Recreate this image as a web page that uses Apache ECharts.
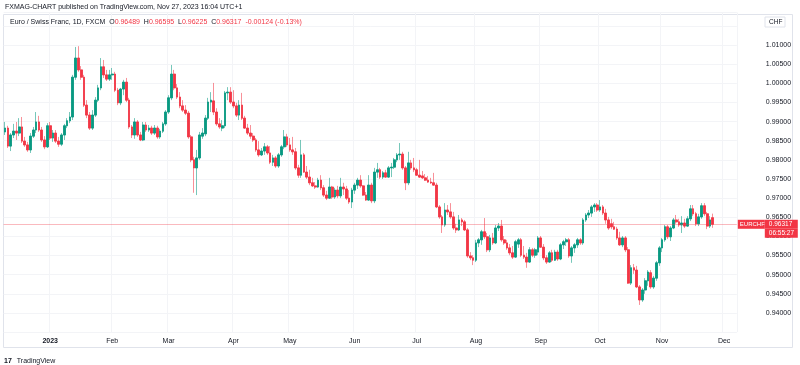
<!DOCTYPE html>
<html><head><meta charset="utf-8">
<script src="https://cdn.jsdelivr.net/npm/echarts@6/dist/echarts.min.js"></script>
<style>html,body{margin:0;padding:0;background:#fff}#c{width:800px;height:365px}</style>
</head><body><div id="c"></div>
<script>
const opens = [
0.9873,0.9883,0.9836,0.9865,0.9875,0.9870,0.9886,0.9849,0.9839,0.9826,
0.9862,0.9878,0.9899,0.9878,0.9852,0.9834,0.9889,0.9857,0.9870,0.9849,
0.9841,0.9865,0.9889,0.9902,0.9912,1.0016,1.0066,1.0035,1.0016,0.9943,
0.9917,0.9883,0.9917,0.9956,0.9988,1.0043,1.0022,1.0011,1.0022,1.0024,
0.9982,0.9949,0.9985,1.0003,0.9956,0.9886,0.9865,0.9899,0.9865,0.9852,
0.9891,0.9878,0.9883,0.9870,0.9883,0.9860,0.9875,0.9894,0.9925,0.9962,
1.0024,0.9988,0.9964,0.9941,0.9930,0.9922,0.9860,0.9800,0.9779,0.9805,
0.9862,0.9868,0.9909,0.9951,0.9954,0.9925,0.9894,0.9883,0.9889,0.9975,
0.9977,0.9951,0.9941,0.9917,0.9943,0.9909,0.9883,0.9870,0.9862,0.9852,
0.9826,0.9813,0.9823,0.9834,0.9818,0.9794,0.9805,0.9784,0.9813,0.9834,
0.9860,0.9839,0.9826,0.9821,0.9779,0.9760,0.9813,0.9768,0.9755,0.9740,
0.9732,0.9729,0.9747,0.9727,0.9708,0.9700,0.9729,0.9703,0.9721,0.9706,
0.9729,0.9724,0.9700,0.9690,0.9721,0.9734,0.9747,0.9732,0.9708,0.9695,
0.9734,0.9693,0.9768,0.9774,0.9755,0.9766,0.9755,0.9779,0.9781,0.9800,
0.9813,0.9815,0.9779,0.9740,0.9792,0.9779,0.9774,0.9760,0.9758,0.9753,
0.9747,0.9742,0.9740,0.9734,0.9677,0.9651,0.9630,0.9669,0.9664,0.9651,
0.9622,0.9617,0.9643,0.9638,0.9617,0.9549,0.9544,0.9538,0.9583,0.9591,
0.9612,0.9599,0.9565,0.9596,0.9583,0.9622,0.9627,0.9591,0.9583,0.9570,
0.9557,0.9546,0.9580,0.9591,0.9551,0.9546,0.9533,0.9565,0.9551,0.9559,
0.9596,0.9572,0.9544,0.9533,0.9557,0.9538,0.9559,0.9541,0.9578,0.9586,
0.9591,0.9549,0.9570,0.9578,0.9591,0.9583,0.9643,0.9656,0.9661,0.9677,
0.9682,0.9669,0.9677,0.9661,0.9643,0.9633,0.9625,0.9619,0.9596,0.9578,
0.9596,0.9565,0.9478,0.9518,0.9512,0.9468,0.9434,0.9460,0.9484,0.9505,
0.9468,0.9491,0.9531,0.9570,0.9591,0.9625,0.9599,0.9622,0.9643,0.9638,
0.9630,0.9635,0.9627,0.9646,0.9672,0.9659,0.9633,0.9651,0.9680,0.9659,
0.9627,0.96489];
const highs = [
0.9899,0.9889,0.9870,0.9894,0.9899,0.9909,0.9912,0.9860,0.9847,0.9870,
0.9886,0.9925,0.9915,0.9886,0.9862,0.9896,0.9899,0.9878,0.9878,0.9860,
0.9870,0.9894,0.9909,0.9925,1.0022,1.0095,1.0097,1.0045,1.0022,0.9956,
0.9925,0.9930,0.9964,0.9996,1.0066,1.0061,1.0035,1.0035,1.0040,1.0030,
0.9988,0.9988,1.0009,1.0014,0.9962,0.9891,0.9909,0.9904,0.9873,0.9899,
0.9899,0.9891,0.9889,0.9891,0.9889,0.9881,0.9899,0.9930,0.9969,1.0048,
1.0035,0.9998,0.9977,0.9956,0.9943,0.9928,0.9865,0.9808,0.9826,0.9873,
0.9883,0.9917,0.9962,0.9977,1.0001,0.9935,0.9909,0.9904,0.9980,0.9990,
0.9990,0.9982,0.9949,0.9956,0.9975,0.9915,0.9894,0.9891,0.9870,0.9857,
0.9849,0.9831,0.9844,0.9839,0.9836,0.9813,0.9810,0.9818,0.9839,0.9878,
0.9868,0.9857,0.9860,0.9831,0.9787,0.9852,0.9818,0.9784,0.9774,0.9753,
0.9742,0.9753,0.9760,0.9734,0.9719,0.9753,0.9732,0.9727,0.9732,0.9753,
0.9740,0.9732,0.9721,0.9727,0.9740,0.9753,0.9760,0.9734,0.9716,0.9760,
0.9740,0.9779,0.9792,0.9779,0.9771,0.9774,0.9784,0.9792,0.9805,0.9818,
0.9844,0.9821,0.9784,0.9821,0.9800,0.9805,0.9779,0.9800,0.9771,0.9763,
0.9758,0.9753,0.9766,0.9740,0.9682,0.9656,0.9687,0.9682,0.9687,0.9664,
0.9633,0.9656,0.9648,0.9643,0.9622,0.9559,0.9551,0.9591,0.9596,0.9617,
0.9648,0.9609,0.9604,0.9609,0.9630,0.9635,0.9643,0.9601,0.9591,0.9580,
0.9575,0.9591,0.9596,0.9596,0.9575,0.9557,0.9572,0.9570,0.9570,0.9601,
0.9601,0.9580,0.9551,0.9562,0.9565,0.9565,0.9565,0.9583,0.9591,0.9596,
0.9596,0.9575,0.9583,0.9596,0.9596,0.9648,0.9661,0.9669,0.9682,0.9687,
0.9687,0.9695,0.9682,0.9672,0.9651,0.9646,0.9638,0.9625,0.9612,0.9601,
0.9601,0.9572,0.9525,0.9528,0.9523,0.9473,0.9465,0.9491,0.9512,0.9512,
0.9497,0.9536,0.9575,0.9596,0.9630,0.9630,0.9627,0.9648,0.9656,0.9646,
0.9653,0.9646,0.9653,0.9682,0.9682,0.9664,0.9659,0.9687,0.9687,0.9664,
0.9653,0.96595];
const lows = [
0.9865,0.9831,0.9823,0.9857,0.9852,0.9862,0.9844,0.9834,0.9821,0.9818,
0.9857,0.9870,0.9873,0.9847,0.9828,0.9831,0.9852,0.9847,0.9844,0.9834,
0.9836,0.9852,0.9883,0.9896,0.9904,1.0009,1.0030,1.0009,0.9938,0.9909,
0.9878,0.9878,0.9912,0.9951,0.9982,1.0014,1.0006,1.0006,1.0009,0.9977,
0.9943,0.9943,0.9969,0.9951,0.9881,0.9857,0.9855,0.9860,0.9849,0.9849,
0.9873,0.9873,0.9865,0.9865,0.9855,0.9855,0.9870,0.9889,0.9920,0.9956,
0.9982,0.9959,0.9935,0.9925,0.9917,0.9855,0.9794,0.9714,0.9708,0.9800,
0.9855,0.9862,0.9904,0.9925,0.9917,0.9889,0.9881,0.9875,0.9883,0.9956,
0.9946,0.9935,0.9912,0.9904,0.9904,0.9881,0.9865,0.9855,0.9847,0.9821,
0.9808,0.9810,0.9813,0.9813,0.9789,0.9784,0.9779,0.9779,0.9808,0.9828,
0.9834,0.9821,0.9813,0.9774,0.9753,0.9753,0.9766,0.9750,0.9734,0.9729,
0.9724,0.9727,0.9721,0.9703,0.9695,0.9698,0.9698,0.9698,0.9700,0.9700,
0.9708,0.9695,0.9685,0.9674,0.9711,0.9724,0.9727,0.9706,0.9693,0.9693,
0.9687,0.9687,0.9753,0.9750,0.9750,0.9753,0.9753,0.9755,0.9776,0.9794,
0.9800,0.9774,0.9721,0.9734,0.9774,0.9768,0.9758,0.9753,0.9750,0.9745,
0.9740,0.9737,0.9732,0.9674,0.9646,0.9609,0.9625,0.9656,0.9646,0.9617,
0.9609,0.9614,0.9627,0.9614,0.9544,0.9538,0.9525,0.9533,0.9572,0.9578,
0.9593,0.9559,0.9559,0.9578,0.9580,0.9614,0.9586,0.9578,0.9565,0.9551,
0.9541,0.9544,0.9570,0.9546,0.9541,0.9518,0.9531,0.9546,0.9544,0.9551,
0.9570,0.9538,0.9528,0.9531,0.9533,0.9536,0.9536,0.9538,0.9567,0.9575,
0.9544,0.9531,0.9557,0.9570,0.9578,0.9578,0.9638,0.9648,0.9651,0.9664,
0.9664,0.9664,0.9656,0.9633,0.9617,0.9619,0.9617,0.9591,0.9575,0.9572,
0.9559,0.9476,0.9473,0.9502,0.9465,0.9421,0.9429,0.9450,0.9471,0.9463,
0.9463,0.9484,0.9523,0.9559,0.9586,0.9593,0.9588,0.9619,0.9633,0.9625,
0.9609,0.9622,0.9625,0.9640,0.9653,0.9627,0.9627,0.9646,0.9653,0.9619,
0.9622,0.96225];
const closes = [
0.9883,0.9836,0.9865,0.9875,0.9870,0.9886,0.9849,0.9839,0.9826,0.9862,
0.9878,0.9899,0.9878,0.9852,0.9834,0.9889,0.9857,0.9870,0.9849,0.9841,
0.9865,0.9889,0.9902,0.9912,1.0016,1.0066,1.0035,1.0016,0.9943,0.9917,
0.9883,0.9917,0.9956,0.9988,1.0043,1.0022,1.0011,1.0022,1.0024,0.9982,
0.9949,0.9985,1.0003,0.9956,0.9886,0.9865,0.9899,0.9865,0.9852,0.9891,
0.9878,0.9883,0.9870,0.9883,0.9860,0.9875,0.9894,0.9925,0.9962,1.0024,
0.9988,0.9964,0.9941,0.9930,0.9922,0.9860,0.9800,0.9779,0.9805,0.9865,
0.9870,0.9909,0.9951,0.9956,0.9925,0.9894,0.9886,0.9889,0.9975,0.9977,
0.9951,0.9941,0.9917,0.9943,0.9909,0.9883,0.9870,0.9862,0.9852,0.9826,
0.9813,0.9823,0.9834,0.9818,0.9794,0.9805,0.9784,0.9813,0.9834,0.9860,
0.9839,0.9826,0.9821,0.9779,0.9760,0.9813,0.9768,0.9755,0.9740,0.9732,
0.9729,0.9747,0.9727,0.9708,0.9700,0.9729,0.9703,0.9721,0.9706,0.9729,
0.9724,0.9700,0.9690,0.9721,0.9734,0.9747,0.9732,0.9708,0.9695,0.9734,
0.9693,0.9768,0.9774,0.9755,0.9766,0.9755,0.9779,0.9781,0.9800,0.9813,
0.9815,0.9779,0.9740,0.9792,0.9779,0.9774,0.9760,0.9755,0.9753,0.9747,
0.9742,0.9740,0.9734,0.9677,0.9651,0.9630,0.9669,0.9664,0.9651,0.9622,
0.9617,0.9643,0.9638,0.9617,0.9549,0.9544,0.9538,0.9583,0.9591,0.9612,
0.9599,0.9565,0.9596,0.9583,0.9622,0.9627,0.9591,0.9583,0.9570,0.9557,
0.9546,0.9586,0.9591,0.9551,0.9546,0.9533,0.9565,0.9551,0.9565,0.9596,
0.9572,0.9544,0.9533,0.9557,0.9538,0.9559,0.9541,0.9578,0.9586,0.9591,
0.9549,0.9570,0.9578,0.9591,0.9583,0.9643,0.9656,0.9661,0.9677,0.9682,
0.9669,0.9677,0.9661,0.9643,0.9622,0.9625,0.9619,0.9596,0.9578,0.9596,
0.9565,0.9478,0.9518,0.9512,0.9468,0.9434,0.9460,0.9484,0.9507,0.9468,
0.9491,0.9531,0.9570,0.9591,0.9625,0.9599,0.9622,0.9643,0.9638,0.9630,
0.9635,0.9627,0.9646,0.9672,0.9659,0.9633,0.9651,0.9680,0.9659,0.9627,
0.9643,0.96317];
const monthNames = ['Jan','Feb','Mar','Apr','May','Jun','Jul','Aug','Sep','Oct','Nov','Dec'];
const lastPrice = 0.96317;
const symbolName = 'EURCHF';
const countdown = '06:55:27';

// trading-day calendar (weekdays) from 2022-12-09, with a few empty days to the right
const dates = [];
(function(){
  const d = new Date(Date.UTC(2022, 11, 9));
  while (dates.length < 260) {
    const wd = d.getUTCDay();
    if (wd !== 0 && wd !== 6) dates.push(d.toISOString().slice(0, 10));
    d.setUTCDate(d.getUTCDate() + 1);
  }
})();
// full candles (drawn for the wicks) and body-only candles (drawn on top)
const candles = opens.map((o, i) => [o, closes[i], lows[i], highs[i]]);
const bodies = opens.map((o, i) => [o, closes[i], Math.min(o, closes[i]), Math.max(o, closes[i])]);
const isMonthStart = (idx) => idx > 0 && dates[idx].slice(0, 7) !== dates[idx - 1].slice(0, 7);

const UP = '#089981', DOWN = '#f23645';
const FONT = 'Liberation Sans';
const chart = echarts.init(document.getElementById('c'), null, {renderer: 'canvas'});
chart.setOption({
  animation: false,
  backgroundColor: '#ffffff',
  title: [
    {left: 5, top: 4, padding: 0, text: 'FXMAG-CHART published on TradingView.com, Nov 27, 2023 16:04 UTC+1',
     textStyle: {fontSize: 7, fontWeight: 'normal', color: '#131722', fontFamily: FONT}},
    {left: 10, top: 19, padding: 0,
     text: '{n|Euro / Swiss Franc, 1D, FXCM}  {k|O}{v|0.96489}  {k|H}{v|0.96595}  {k|L}{v|0.96225}  {k|C}{v|0.96317}  {v|-0.00124 (-0.13%)}',
     textStyle: {fontSize: 7, fontWeight: 'normal', fontFamily: FONT, rich: {
       n: {fontSize: 7, fontWeight: 'normal', color: '#131722', fontFamily: FONT},
       k: {fontSize: 7, fontWeight: 'normal', color: '#131722', fontFamily: FONT},
       v: {fontSize: 7, fontWeight: 'normal', color: '#f23645', fontFamily: FONT}}}},
    {left: 4, top: 352, padding: 0, text: '{l|17} {t|TradingView}',
     textStyle: {fontFamily: FONT, fontWeight: 'normal', rich: {
       l: {fontSize: 7, fontWeight: 'bold', color: '#131722', fontFamily: FONT},
       t: {fontSize: 7, fontWeight: 'normal', color: '#131722', fontFamily: FONT}}}}
  ],
  graphic: [
    {type: 'rect', shape: {x: 3.5, y: 14.5, width: 789, height: 333}, silent: true,
     style: {fill: 'none', stroke: '#e0e3eb', lineWidth: 1}},
    {type: 'rect', shape: {x: 765, y: 17, width: 20, height: 10}, silent: true,
     style: {fill: '#fff', stroke: '#e0e3eb', lineWidth: 1}},
    {type: 'text', x: 769, y: 19, silent: true,
     style: {text: 'CHF', fontSize: 6.5, fill: '#131722', fontFamily: FONT}}
  ],
  grid: {left: 3.65, right: 63.2, top: 12.5, bottom: 32.9, containLabel: false},
  xAxis: {
    type: 'category', data: dates, boundaryGap: true,
    axisLine: {show: false}, axisTick: {show: false},
    axisLabel: {
      interval: (idx) => isMonthStart(idx),
      formatter: (val) => {
        const m = +val.slice(5, 7);
        return m === 1 ? '{y|' + val.slice(0, 4) + '}' : monthNames[m - 1];
      },
      fontSize: 7, color: '#131722', fontFamily: FONT, margin: 5,
      rich: {y: {fontSize: 7, fontWeight: 'bold', color: '#131722', fontFamily: FONT}}
    },
    splitLine: {show: true, interval: (idx) => isMonthStart(idx), lineStyle: {color: '#f3f4f7', width: 1}}
  },
  yAxis: {
    type: 'value', position: 'right', min: 0.935, max: 1.0185, interval: 0.005, scale: true,
    axisLine: {show: false}, axisTick: {show: false},
    axisLabel: {
      formatter: (v) => (v < 0.9399 || v > 1.0101) ? '' : v.toFixed(5),
      fontSize: 7, color: '#131722', fontFamily: FONT, align: 'left', margin: 29
    },
    splitLine: {show: true, lineStyle: {color: '#f3f4f7', width: 1}}
  },
  series: [
    {
      type: 'candlestick', name: 'wicks', data: candles, barWidth: '78%', z: 2,
      itemStyle: {color: 'rgba(8,153,129,0.55)', color0: 'rgba(242,54,69,0.55)',
                  borderColor: 'rgba(8,153,129,0.55)', borderColor0: 'rgba(242,54,69,0.55)', borderWidth: 1},
      markLine: {
        silent: true, symbol: ['none', 'none'], animation: false, precision: 5,
        lineStyle: {color: 'rgba(242,54,69,0.35)', type: 'solid', width: 1},
        label: {
          show: true, position: 'end', distance: 1, offset: [0, 4.5],
          formatter: '{n|' + symbolName + '}{v|' + lastPrice.toFixed(5) + '}\n{s|}{t|' + countdown + '}',
          rich: {
            n: {backgroundColor: DOWN, color: '#fff', fontSize: 6, fontFamily: FONT, width: 25, height: 9, align: 'left', padding: [0, 0, 0, 2]},
            v: {backgroundColor: DOWN, color: '#fff', fontSize: 6.5, fontFamily: FONT, width: 29, height: 9, align: 'left', padding: [0, 0, 0, 4]},
            s: {width: 27, height: 9},
            t: {backgroundColor: DOWN, color: '#fff', fontSize: 6.5, fontFamily: FONT, width: 29, height: 9, align: 'left', padding: [0, 0, 0, 4]}
          }
        },
        data: [{yAxis: lastPrice}]
      }
    },
    {
      type: 'candlestick', name: 'bodies', data: bodies, barWidth: '78%', z: 3,
      itemStyle: {color: UP, color0: DOWN, borderColor: UP, borderColor0: DOWN, borderWidth: 0.6}
    }
  ]
});
</script></body></html>
